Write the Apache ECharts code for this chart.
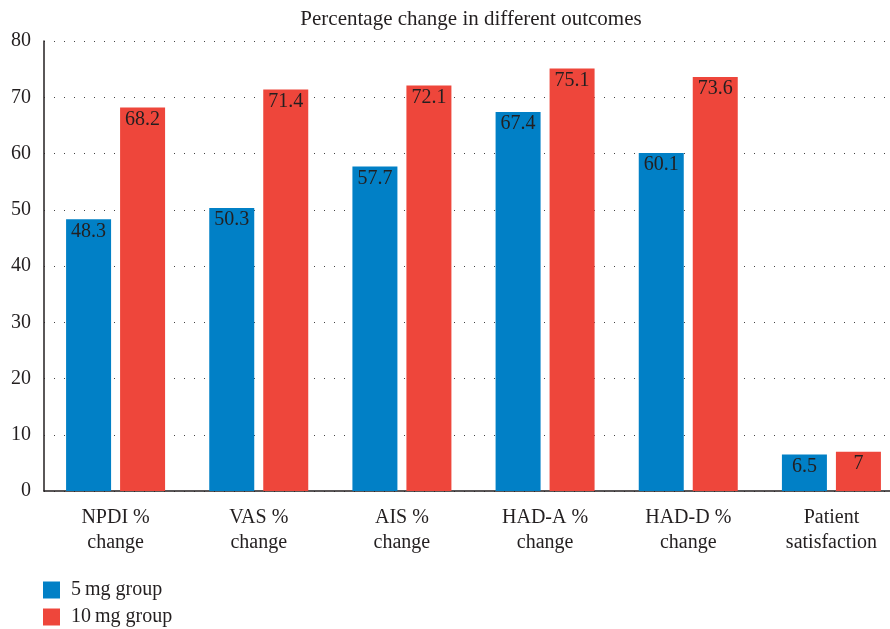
<!DOCTYPE html>
<html>
<head>
<meta charset="utf-8">
<script src="https://cdn.jsdelivr.net/npm/echarts@6/dist/echarts.min.js"></script>
<style>
html, body { margin: 0; padding: 0; background: #fff; }
#chart { width: 890px; height: 629px; }
</style>
</head>
<body>
<div id="chart"></div>
<script>
var categories = ['NPDI %\nchange', 'VAS %\nchange', 'AIS %\nchange', 'HAD-A %\nchange', 'HAD-D %\nchange', 'Patient\nsatisfaction'];
var group5mg = [48.3, 50.3, 57.7, 67.4, 60.1, 6.5];
var group10mg = [68.2, 71.4, 72.1, 75.1, 73.6, 7];
var seriesNames = ['5\u2009mg group', '10\u2009mg group'];

var serif = '"Liberation Serif", "DejaVu Serif", serif';

var chart = echarts.init(document.getElementById('chart'));

function barLabel() {
    return {
        show: true,
        position: 'insideTop',
        distance: 2,
        color: '#231f20',
        fontFamily: serif,
        fontSize: 20
    };
}

chart.setOption({
    animation: false,
    textStyle: { fontFamily: serif },
    title: {
        text: 'Percentage change in different outcomes',
        left: 466,
        textAlign: 'center',
        top: 4,
        textStyle: { fontFamily: serif, fontSize: 21, fontWeight: 'normal', color: '#231f20' }
    },
    legend: {
        orient: 'vertical',
        left: 43,
        top: 580,
        padding: 0,
        itemWidth: 17,
        itemHeight: 17,
        itemGap: 7,
        icon: 'rect',
        textStyle: { fontFamily: serif, fontSize: 20, color: '#231f20', padding: [0, 0, 0, 6] },
        data: seriesNames
    },
    grid: { left: 44, top: 41, width: 859, bottom: 138, outerBoundsMode: 'none' },
    xAxis: {
        type: 'category',
        data: categories,
        axisLine: { lineStyle: { color: '#231f20', width: 1.5 } },
        axisTick: { show: false },
        axisLabel: { fontFamily: serif, fontSize: 20, color: '#231f20', lineHeight: 25, margin: 14 }
    },
    yAxis: {
        type: 'value',
        min: 0,
        max: 80,
        interval: 10,
        axisLine: { show: true, lineStyle: { color: '#231f20', width: 1.5 } },
        axisTick: { show: false },
        axisLabel: { fontFamily: serif, fontSize: 20, color: '#231f20', margin: 13 },
        splitLine: { lineStyle: { color: '#444', type: [1, 9], width: 1 } }
    },
    series: [
        {
            name: seriesNames[0],
            type: 'bar',
            data: group5mg,
            barWidth: 45,
            barGap: '20%',
            itemStyle: { color: '#0180c6' },
            label: barLabel()
        },
        {
            name: seriesNames[1],
            type: 'bar',
            data: group10mg,
            barWidth: 45,
            itemStyle: { color: '#ee463b' },
            label: barLabel()
        }
    ]
});
</script>
</body>
</html>
